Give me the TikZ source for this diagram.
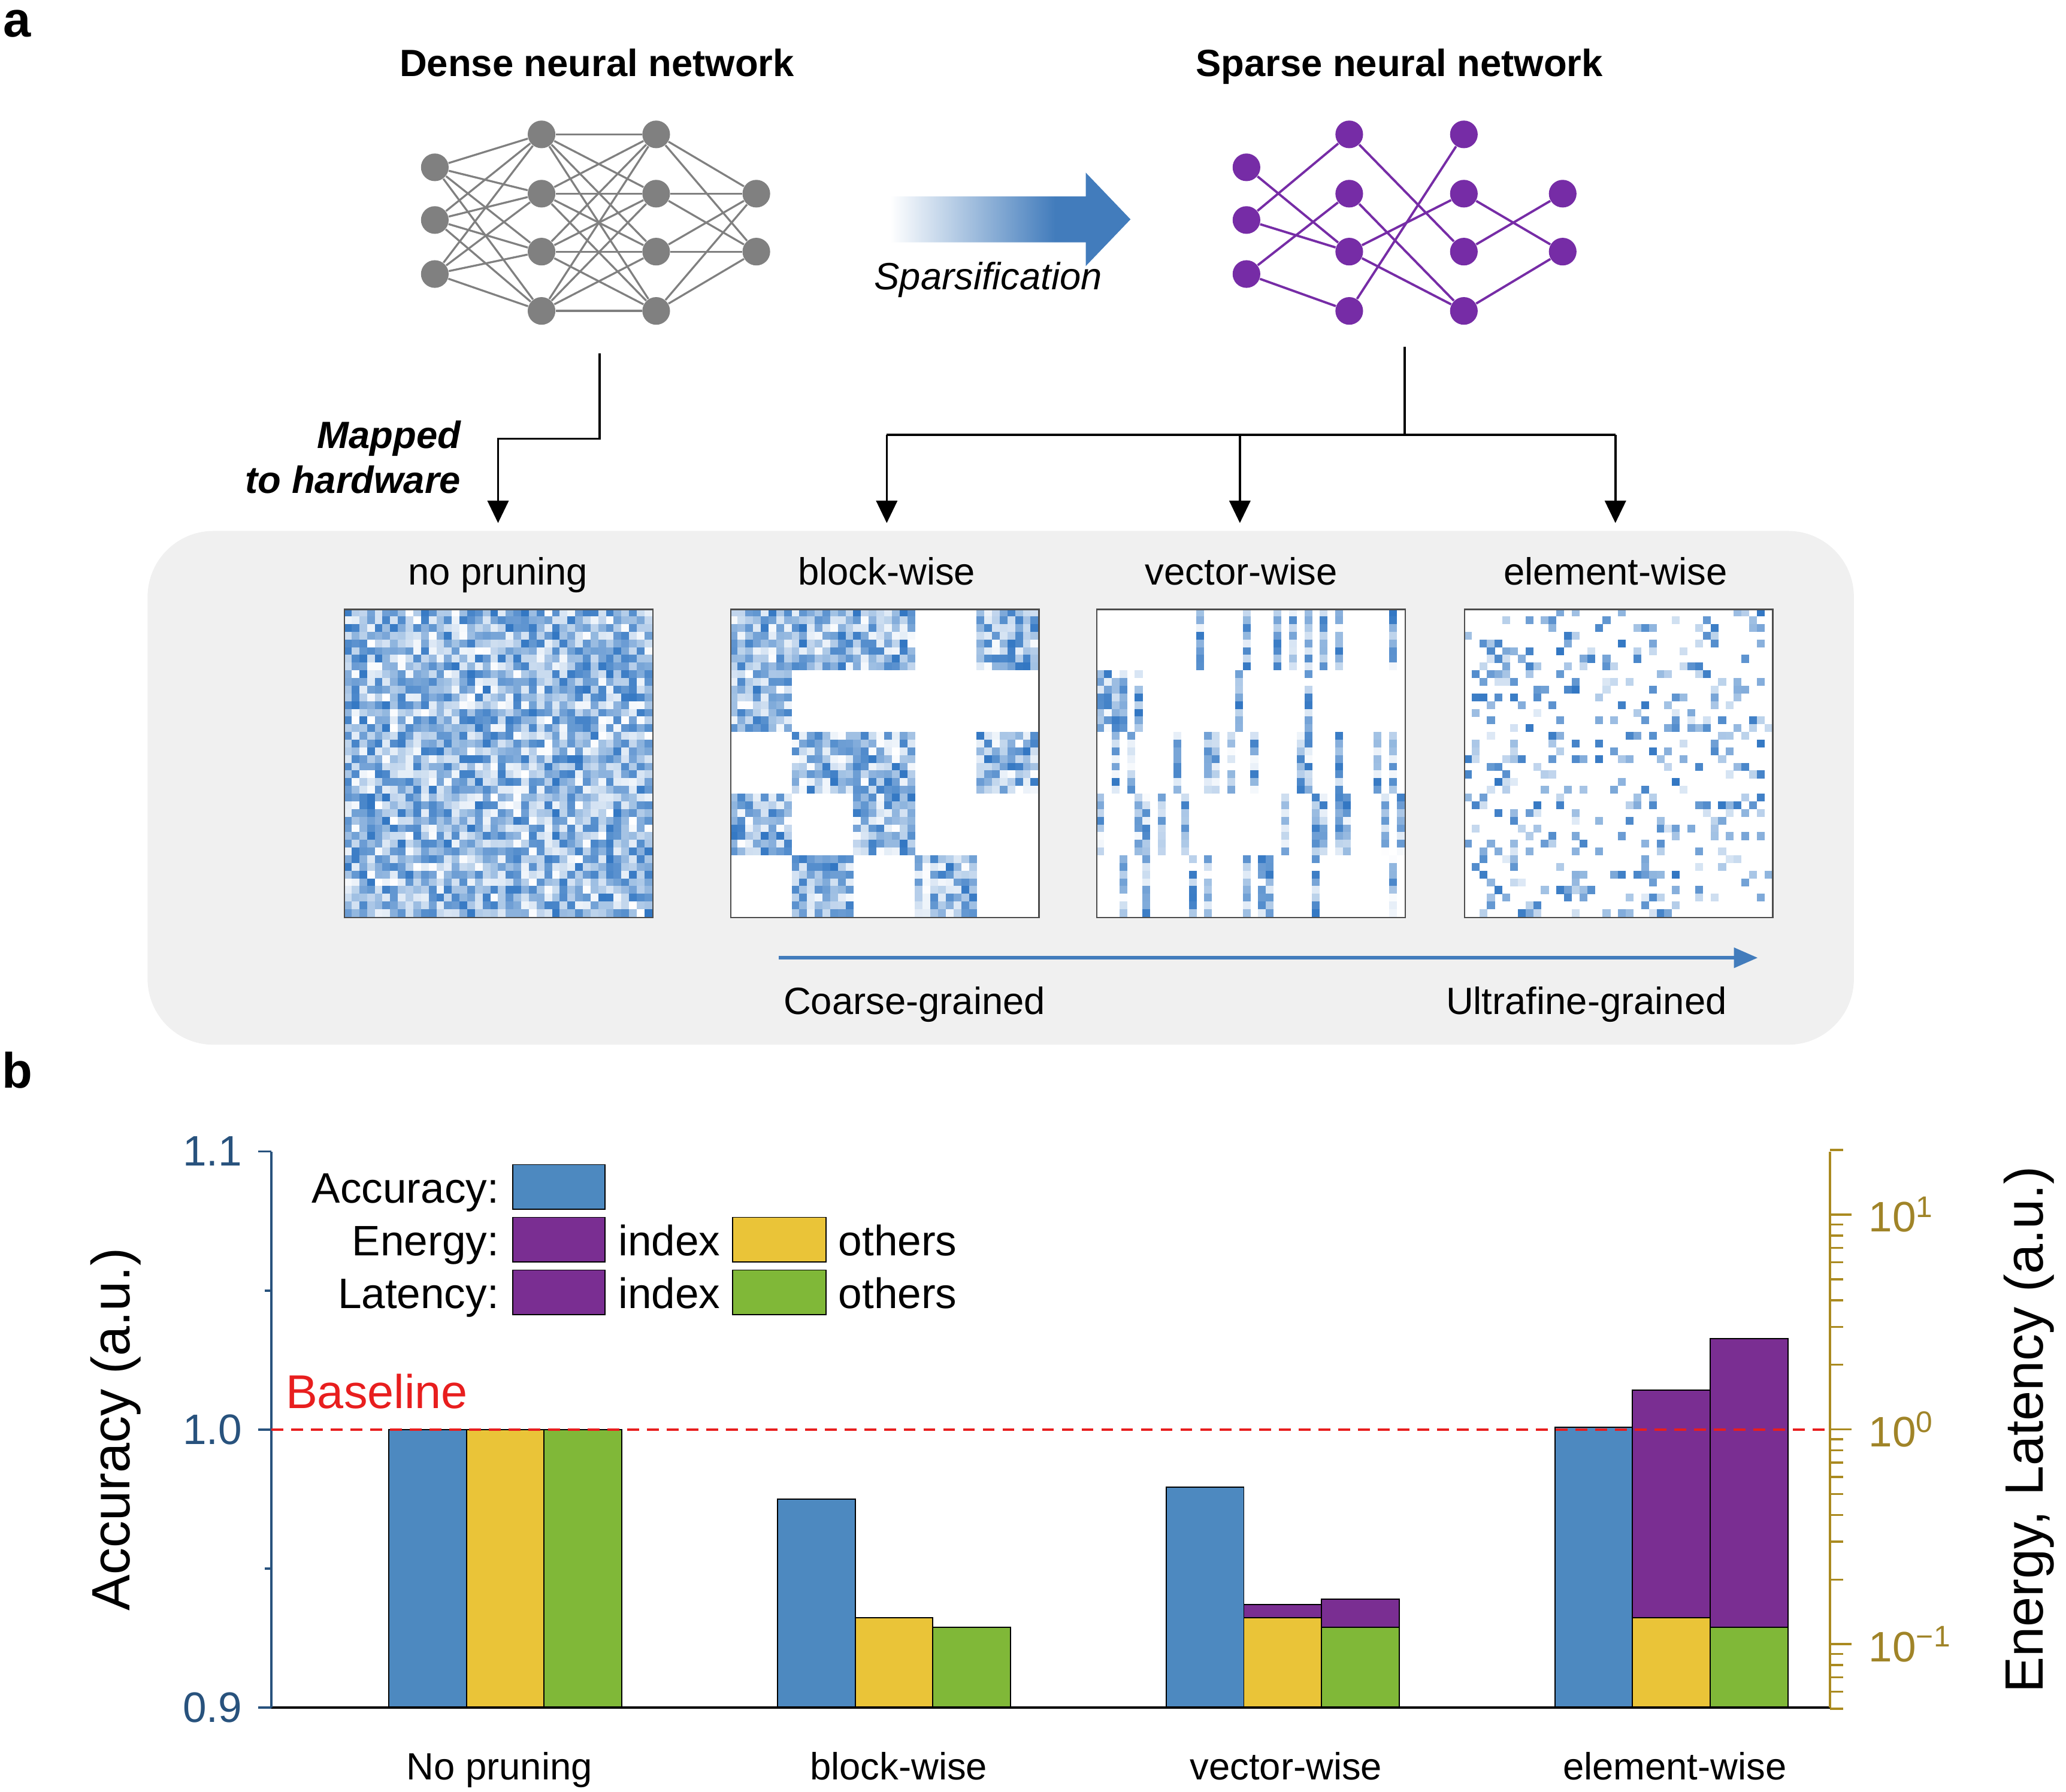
\documentclass[tikz,border=0pt]{standalone}
\usepackage{fontspec}
\setmainfont{Liberation Sans}
\usetikzlibrary{arrows.meta,calc}
\definecolor{netgray}{RGB}{128,128,128}
\definecolor{netpurple}{RGB}{118,44,166}
\definecolor{arrowblue}{RGB}{66,124,188}
\definecolor{cellblue}{RGB}{40,112,192}
\definecolor{panelgray}{RGB}{240,240,240}
\definecolor{accblue}{RGB}{77,137,192}
\definecolor{idxpurple}{RGB}{122,46,146}
\definecolor{othyellow}{RGB}{234,196,56}
\definecolor{othgreen}{RGB}{128,184,56}
\definecolor{leftaxis}{RGB}{40,82,125}
\definecolor{rightaxis}{RGB}{170,138,32}
\definecolor{righttext}{RGB}{160,132,40}
\definecolor{baselinered}{RGB}{232,30,30}
\newcommand\fsz[1]{\fontsize{#1}{#1}\selectfont}
\pgfdeclarehorizontalshading{sparsearrow}{100bp}{color(0bp)=(white); color(27bp)=(white); color(60bp)=(arrowblue); color(100bp)=(arrowblue)}
\tikzset{
  dnode/.style={circle, fill=netgray, minimum size=0.42cm, inner sep=0pt},
  snode/.style={circle, fill=netpurple, minimum size=0.42cm, inner sep=0pt},
  dedge/.style={draw=netgray, line width=0.85pt},
  sedge/.style={draw=netpurple, line width=1pt},
  conn/.style={line width=0.9pt, draw=black},
  connarrow/.style={conn, -{Triangle[width=0.32cm,length=0.34cm]}},
  lbl/.style={font=\fsz{16.4}, inner sep=0pt, anchor=base},
  title/.style={font=\bfseries\fsz{16.4}, inner sep=0pt, anchor=base},
  panelletter/.style={font=\bfseries\fsz{21.5}, inner sep=0pt, anchor=base},
  matbox/.style={draw=black!70, line width=0.6pt, minimum size=4.68cm, inner sep=0pt, anchor=north west},
  legtext/.style={font=\fsz{18.4}, inner sep=0pt},
  legbox/.style={draw=black, line width=0.5pt},
  barbox/.style={draw=black, line width=0.5pt},
}
\begin{document}
\begin{tikzpicture}[x=0.02cm,y=-0.02cm]
\useasboundingbox (0,0) rectangle (1568,1360);
\pgfmathsetseed{4242}
% ---------- panel letters
\node[panelletter] (pa) at (13,28) {a};
\node[panelletter] (pb) at (13,826) {b};
% ---------- titles
\node[title] (densetitle) at (453,58) {Dense neural network};
\node[title] (sparsetitle) at (1062,58) {Sparse neural network};
% ---------- dense network
\foreach \y [count=\k] in {127,167,208} \node[dnode] (dA\k) at (330,\y) {};
\foreach \y [count=\k] in {102,147,191,236} {\node[dnode] (dB\k) at (411,\y) {}; \node[dnode] (dC\k) at (498,\y) {};}
\foreach \y [count=\k] in {147,191} \node[dnode] (dD\k) at (574,\y) {};
\foreach \a in {1,2,3} \foreach \b in {1,...,4} \draw[dedge] (dA\a) -- (dB\b);
\foreach \a in {1,...,4} \foreach \b in {1,...,4} \draw[dedge] (dB\a) -- (dC\b);
\foreach \a in {1,...,4} \foreach \b in {1,2} \draw[dedge] (dC\a) -- (dD\b);
% ---------- sparse network
\foreach \y [count=\k] in {127,167,208} \node[snode] (sA\k) at (946,\y) {};
\foreach \y [count=\k] in {102,147,191,236} {\node[snode] (sB\k) at (1024,\y) {}; \node[snode] (sC\k) at (1111,\y) {};}
\foreach \y [count=\k] in {147,191} \node[snode] (sD\k) at (1186,\y) {};
\foreach \p/\q in {A1/B3,A2/B1,A2/B3,A3/B2,A3/B4,B1/C3,B2/C4,B3/C2,B3/C4,B4/C1,C2/D2,C3/D1,C4/D2}
  \draw[sedge] (s\p) -- (s\q);
% ---------- sparsification arrow
\shade[shading=sparsearrow] (668,149) -- (824,149) -- (824,131) -- (858,166.5) -- (824,202) -- (824,184) -- (668,184) -- cycle;
\node[lbl, font=\itshape\fsz{16.4}] (sparsif) at (750,220) {Sparsification};
% ---------- gray panel
\fill[panelgray, rounded corners=1cm] (112,403) rectangle (1407,793);
% ---------- mapping connectors
\coordinate (dstem) at (455,268);
\coordinate (nopin) at (378,397);
\coordinate (sstem) at (1066,263);
\coordinate (sbar) at (1066,330);
\coordinate (blockin) at (673,397);
\coordinate (vecin) at (941,397);
\coordinate (elemin) at (1226,397);
\draw[connarrow] (dstem) -- ++(0,65) -| (nopin);
\draw[conn] (sstem) -- (sbar);
\draw[conn] (blockin |- sbar) -- (elemin |- sbar);
\draw[connarrow] (blockin |- sbar) -- (blockin);
\draw[connarrow] (vecin |- sbar) -- (vecin);
\draw[connarrow] (elemin |- sbar) -- (elemin);
\node[inner sep=0pt, font=\bfseries\itshape\fontsize{16.4}{19.5}\selectfont, align=right, anchor=east] (mapped) at (350,347) {Mapped\\to hardware};
% ---------- matrix labels
\node[lbl] (lnopr) at (378,444) {no pruning};
\node[lbl] (lblock) at (673,444) {block-wise};
\node[lbl] (lvec) at (942,444) {vector-wise};
\node[lbl] (lelem) at (1226,444) {element-wise};
% ---------- matrices
\fill[white] (261,462) rectangle ++(234,234);
\fill[white] (554,462) rectangle ++(234,234);
\fill[white] (832,462) rectangle ++(234,234);
\fill[white] (1111,462) rectangle ++(234,234);
% no pruning
\foreach \i in {0,...,39}{\foreach \j in {0,...,39}{%
  \pgfmathtruncatemacro\v{random(0,95)}%
  \fill[cellblue!\v!white] ({261+\i*5.85},{462+\j*5.85}) rectangle ++(5.95,5.95);}}
% block-wise
\foreach \br/\bc in {0/0,0/1,0/2,0/4,1/0,2/1,2/2,2/4,3/0,3/2,4/1,4/3}{%
  \foreach \i in {0,...,7}{\foreach \j in {0,...,7}{%
    \pgfmathtruncatemacro\v{random(0,95)}%
    \fill[cellblue!\v!white] ({554+(\bc*8+\i)*5.85},{462+(\br*8+\j)*5.85}) rectangle ++(5.95,5.95);}}}
% vector-wise
\foreach \br/\c in {0/13,0/19,0/23,0/25,0/27,0/29,0/31,0/38,
  1/0,1/1,1/2,1/3,1/5,1/18,1/27,
  2/2,2/4,2/10,2/14,2/15,2/17,2/20,2/26,2/27,2/31,2/36,2/38,
  3/0,3/5,3/6,3/8,3/11,3/24,3/28,3/29,3/31,3/32,3/37,3/39,
  4/3,4/6,4/12,4/14,4/19,4/21,4/22,4/28,4/38}{%
  \foreach \j in {0,...,7}{%
    \pgfmathtruncatemacro\v{random(0,95)}%
    \fill[cellblue!\v!white] ({832+\c*5.85},{462+(\br*8+\j)*5.85}) rectangle ++(5.95,5.95);}}
% element-wise
\foreach \i in {0,...,39}{\foreach \j in {0,...,39}{%
  \pgfmathtruncatemacro\hit{rnd<0.2}%
  \ifnum\hit=1
    \pgfmathtruncatemacro\v{random(15,95)}%
    \fill[cellblue!\v!white] ({1111+\i*5.85},{462+\j*5.85}) rectangle ++(5.95,5.95);
  \fi}}
\node[matbox] (mnopr) at (261,462) {};
\node[matbox] (mblock) at (554,462) {};
\node[matbox] (mvec) at (832,462) {};
\node[matbox] (melem) at (1111,462) {};
% ---------- granularity arrow
\coordinate (cgstart) at (591,727);
\coordinate (cgend) at (1334,727);
\draw[arrowblue, line width=1.4pt, -{Triangle[width=0.3cm,length=0.36cm]}] (cgstart) -- (cgend);
\node[lbl] (coarse) at (694,770) {Coarse-grained};
\node[lbl] (ultra) at (1204,770) {Ultrafine-grained};
% ---------- bar chart
% bars
\draw[barbox, fill=accblue] (295,1085) rectangle (354,1296);
\draw[barbox, fill=othyellow] (354,1085) rectangle (413,1296);
\draw[barbox, fill=othgreen] (413,1085) rectangle (472,1296);
\draw[barbox, fill=accblue] (590,1138) rectangle (649,1296);
\draw[barbox, fill=othyellow] (649,1228) rectangle (708,1296);
\draw[barbox, fill=othgreen] (708,1235) rectangle (767,1296);
\draw[barbox, fill=accblue] (885,1129) rectangle (944,1296);
\draw[barbox, fill=othyellow] (944,1228) rectangle (1003,1296);
\draw[barbox, fill=idxpurple] (944,1218) rectangle (1003,1228);
\draw[barbox, fill=othgreen] (1003,1235) rectangle (1062,1296);
\draw[barbox, fill=idxpurple] (1003,1214) rectangle (1062,1235);
\draw[barbox, fill=accblue] (1180,1083.5) rectangle (1239,1296);
\draw[barbox, fill=othyellow] (1239,1228) rectangle (1298,1296);
\draw[barbox, fill=idxpurple] (1239,1055) rectangle (1298,1228);
\draw[barbox, fill=othgreen] (1298,1235) rectangle (1357,1296);
\draw[barbox, fill=idxpurple] (1298,1016) rectangle (1357,1235);
% axes
\draw[black, line width=1pt] (206,1296) -- (1389,1296);
\draw[leftaxis, line width=1pt] (206,874) -- (206,1296);
\foreach \yy in {874,1085,1296} \draw[leftaxis, line width=1pt] (206,\yy) -- (196,\yy);
\foreach \yy in {979.5,1190.5} \draw[leftaxis, line width=1pt] (206,\yy) -- (201,\yy);
\node[legtext, text=leftaxis, anchor=east] (t11) at (184,874) {1.1};
\node[legtext, text=leftaxis, anchor=east] (t10) at (184,1085) {1.0};
\node[legtext, text=leftaxis, anchor=east] (t09) at (184,1296) {0.9};
\draw[rightaxis, line width=1.1pt] (1389,874) -- (1389,1296);
\begin{scope}
  \clip (1380,872) rectangle (1430,1298);
  \foreach \k in {-2,-1,0,1}{%
    \foreach \m in {2,...,9}{%
      \pgfmathsetmacro\yy{1085-163*(\k+log10(\m))}%
      \draw[rightaxis, line width=0.9pt] (1389,\yy) -- (1399,\yy);}
    \pgfmathsetmacro\yy{1085-163*\k}%
    \draw[rightaxis, line width=0.9pt] (1389,\yy) -- (1405,\yy);}
\end{scope}
\node[legtext, text=righttext, anchor=west] (r1) at (1418,922) {10\textsuperscript{1}};
\node[legtext, text=righttext, anchor=west] (r0) at (1418,1085) {10\textsuperscript{0}};
\node[legtext, text=righttext, anchor=west] (rm1) at (1418,1248) {10\textsuperscript{−1}};
\node[font=\fsz{23.3}, inner sep=0pt, rotate=90] (ylab) at (88,1085) {Accuracy (a.u.)};
\node[font=\fsz{23.3}, inner sep=0pt, rotate=90] (y2lab) at (1540,1085) {Energy, Latency (a.u.)};
% baseline
\draw[baselinered, line width=1.1pt, dash pattern=on 0.18cm off 0.12cm] (206,1085) -- (1389,1085);
\node[font=\fsz{20.5}, text=baselinered, inner sep=0pt] (baseline) at (286,1056) {Baseline};
% legend
\node[legtext, anchor=base east] (lacc) at (379,913) {Accuracy:};
\node[legtext, anchor=base east] (lene) at (379,953) {Energy:};
\node[legtext, anchor=base east] (llat) at (379,993) {Latency:};
\draw[legbox, fill=accblue] (389,884) rectangle (459,918);
\draw[legbox, fill=idxpurple] (389,924) rectangle (459,958);
\draw[legbox, fill=idxpurple] (389,964) rectangle (459,998);
\draw[legbox, fill=othyellow] (556,924) rectangle (627,958);
\draw[legbox, fill=othgreen] (556,964) rectangle (627,998);
\node[legtext, anchor=base west] (lidx1) at (469,953) {index};
\node[legtext, anchor=base west] (lidx2) at (469,993) {index};
\node[legtext, anchor=base west] (loth1) at (636,953) {others};
\node[legtext, anchor=base west] (loth2) at (636,993) {others};
% category labels
\node[lbl] (cnopr) at (379,1351) {No pruning};
\node[lbl] (cblock) at (682,1351) {block-wise};
\node[lbl] (cvec) at (976,1351) {vector-wise};
\node[lbl] (celem) at (1271,1351) {element-wise};
\end{tikzpicture}
\end{document}
